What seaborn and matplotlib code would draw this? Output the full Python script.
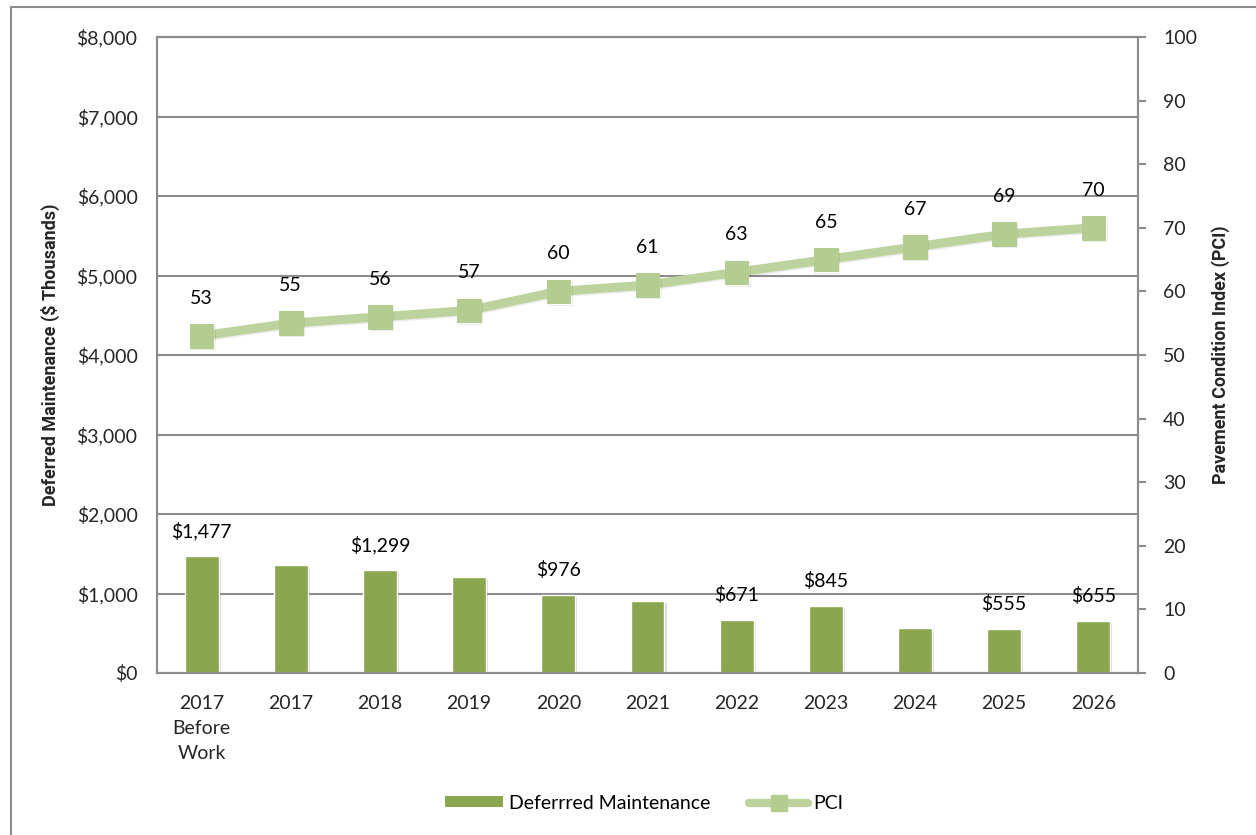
import matplotlib
matplotlib.use("Agg")
import matplotlib.pyplot as plt
import matplotlib.patheffects as pe
from matplotlib.patches import Rectangle, Patch
from matplotlib.lines import Line2D
from matplotlib.ticker import FuncFormatter, MultipleLocator
import numpy as np
import pandas as pd
import seaborn as sns

# ---- data -------------------------------------------------------------
years = ["2017\nBefore\nWork", "2017", "2018", "2019", "2020", "2021",
         "2022", "2023", "2024", "2025", "2026"]
deferred = [1477, 1364, 1299, 1211, 976, 903, 671, 845, 568, 555, 655]
deferred_shown = [True, False, True, False, True, False, True, True, False, True, True]
pci = [53, 55, 56, 57, 60, 61, 63, 65, 67, 69, 70]

BAR_COLOR = "#8AA64F"
LINE_COLOR = "#BDD39E"
MARKER_COLOR = "#B3CC90"
GRID_COLOR = "#8C8C8C"
FONT = ["Lato", "DejaVu Sans"]
BOLD_FONT = ["Roboto", "DejaVu Sans"]
FS = 14

sns.set_theme(style="white")
plt.rcParams["font.family"] = FONT
plt.rcParams["text.color"] = "#000000"

df = pd.DataFrame({"year": years, "deferred": deferred, "pci": pci})

fig = plt.figure(figsize=(12.56, 8.35), dpi=100)
ax = fig.add_axes([157 / 1256, 1 - 673 / 835, (1138 - 157) / 1256, (673 - 37) / 835])

# ---- bars: deferred maintenance ---------------------------------------
sns.barplot(data=df, x="year", y="deferred", color=BAR_COLOR, saturation=1,
            width=0.38, ax=ax, zorder=3)
for bar in ax.patches:
    bar.set_edgecolor("white")
    bar.set_linewidth(1.0)
    bar.set_path_effects([pe.SimplePatchShadow(offset=(1.5, -1.5), shadow_rgbFace="#000000", alpha=0.15),
                          pe.Normal()])

for i, (v, show) in enumerate(zip(deferred, deferred_shown)):
    if show:
        ax.annotate(f"${v:,}", xy=(i, v), xytext=(0, 18), textcoords="offset points",
                    ha="center", va="center", fontsize=FS)

ax.set_ylim(0, 8000)
ax.set_xlim(-0.5, len(years) - 0.5)
ax.yaxis.set_major_locator(MultipleLocator(1000))
ax.yaxis.set_major_formatter(FuncFormatter(lambda v, p: f"${v:,.0f}"))
ax.yaxis.grid(True, color=GRID_COLOR, linewidth=1.5)
ax.set_axisbelow(True)
ax.tick_params(axis="y", length=0, pad=14, labelsize=FS)
ax.tick_params(axis="x", length=0, pad=16, labelsize=FS)
for lbl in ax.get_xticklabels():
    lbl.set_linespacing(1.55)
    lbl.set_verticalalignment("top")
ax.set_xlabel("")
ax.set_ylabel("Deferred Maintenance ($ Thousands)", fontsize=13, fontweight="bold",
              family=BOLD_FONT, labelpad=12)

# ---- line: PCI on secondary axis -------------------------------------
ax2 = ax.twinx()
x_pos = np.arange(len(years))
sns.lineplot(x=x_pos, y=pci, ax=ax2, color=LINE_COLOR, linewidth=6.5, marker="s",
             markersize=17, markerfacecolor=MARKER_COLOR, markeredgecolor=MARKER_COLOR,
             zorder=4)
for line in ax2.lines:
    line.set_path_effects([pe.SimpleLineShadow(offset=(1, -1), alpha=0.08), pe.Normal()])
for i, v in enumerate(pci):
    ax2.annotate(f"{v}", xy=(i, v), xytext=(0, 27), textcoords="offset points",
                 ha="center", va="center", fontsize=FS)

ax2.set_ylim(0, 100)
ax2.set_xlim(-0.5, len(years) - 0.5)
ax2.yaxis.set_major_locator(MultipleLocator(10))
ax2.tick_params(axis="y", length=6, width=1.5, color=GRID_COLOR, pad=12, labelsize=FS)
ax2.set_ylabel("Pavement Condition Index (PCI)", fontsize=13, fontweight="bold",
               family=BOLD_FONT, labelpad=10, rotation=90)
ax2.grid(False)

for a in (ax, ax2):
    for s in a.spines.values():
        s.set_color(GRID_COLOR)
        s.set_linewidth(1.5)

# ---- legend -----------------------------------------------------------
handles = [
    Patch(facecolor=BAR_COLOR, edgecolor="none", label="Deferrred Maintenance"),
    Line2D([0], [0], color=LINE_COLOR, linewidth=6, marker="s", markersize=12,
           markerfacecolor=MARKER_COLOR, markeredgecolor=MARKER_COLOR, label="PCI"),
]
fig.legend(handles=handles, loc="center", bbox_to_anchor=(0.513, 0.038), ncol=2,
           frameon=False, fontsize=FS, handlelength=3.0, handleheight=0.5,
           handletextpad=0.3, columnspacing=2.0)

# ---- outer chart border ----------------------------------------------
fig.patches.append(Rectangle((11 / 1256, -0.1), 1.2, 1.1 - 7 / 835, transform=fig.transFigure,
                             fill=False, edgecolor=GRID_COLOR, linewidth=1.5, zorder=0))

fig.savefig("out.png", dpi=100)
